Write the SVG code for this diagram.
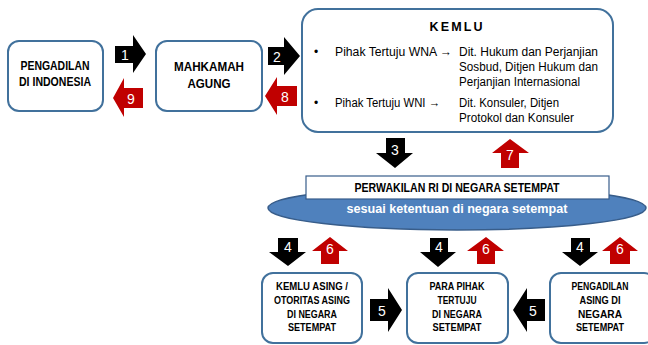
<svg xmlns="http://www.w3.org/2000/svg" width="648" height="345" viewBox="0 0 648 345">
<style>
.box{fill:#fff;stroke:#41719C;stroke-width:2}
.t{font-family:"Liberation Sans",Arial,sans-serif;fill:#000}
.b{font-weight:bold}
.blk{fill:#000}
.red{fill:#C00000}
.num{font-family:"Liberation Sans",Arial,sans-serif;font-size:14px;fill:#fff;text-anchor:middle}
</style>
<rect width="648" height="345" fill="#fff"/>
<g id="pengadilan-indonesia">
<rect class="box" x="8" y="41" width="95" height="70" rx="11"/>
<text class="t b" font-size="13" x="55" y="70" text-anchor="middle" textLength="69" lengthAdjust="spacingAndGlyphs">PENGADILAN</text>
<text class="t b" font-size="13" x="55" y="86" text-anchor="middle" textLength="72" lengthAdjust="spacingAndGlyphs">DI INDONESIA</text>
</g>
<g id="mahkamah-agung">
<rect class="box" x="156" y="41" width="106" height="70" rx="11"/>
<text class="t b" font-size="13" x="209" y="71" text-anchor="middle" textLength="70" lengthAdjust="spacingAndGlyphs">MAHKAMAH</text>
<text class="t b" font-size="13" x="209" y="88" text-anchor="middle" textLength="43" lengthAdjust="spacingAndGlyphs">AGUNG</text>
</g>
<g id="kemlu">
<rect class="box" x="302" y="9" width="311" height="123" rx="16"/>
<text class="t b" font-size="12.5" x="456" y="31" text-anchor="middle" textLength="53" lengthAdjust="spacing">KEMLU</text>
<text class="t" font-size="12" x="314" y="56">•</text>
<text class="t" font-size="12.5" x="335" y="56" textLength="117" lengthAdjust="spacingAndGlyphs">Pihak Tertuju WNA →</text>
<text class="t" font-size="12.5" x="459" y="56" textLength="139" lengthAdjust="spacingAndGlyphs">Dit. Hukum dan Perjanjian</text>
<text class="t" font-size="12.5" x="459" y="71" textLength="139" lengthAdjust="spacingAndGlyphs">Sosbud, Ditjen Hukum dan</text>
<text class="t" font-size="12.5" x="459" y="86" textLength="121" lengthAdjust="spacingAndGlyphs">Perjanjian Internasional</text>
<text class="t" font-size="12" x="314" y="107">•</text>
<text class="t" font-size="12.5" x="335" y="107" textLength="105" lengthAdjust="spacingAndGlyphs">Pihak Tertuju WNI →</text>
<text class="t" font-size="12.5" x="459" y="107" textLength="100" lengthAdjust="spacingAndGlyphs">Dit. Konsuler, Ditjen</text>
<text class="t" font-size="12.5" x="459" y="122" textLength="115" lengthAdjust="spacingAndGlyphs">Protokol dan Konsuler</text>
</g>
<g id="perwakilan">
<ellipse cx="457" cy="208" rx="189" ry="22" fill="#4F81BD" stroke="#385D8A" stroke-width="1.5"/>
<rect x="306" y="176" width="303" height="23" fill="#fff" stroke="#385D8A" stroke-width="1.2"/>
<text class="t b" font-size="12" x="457" y="192" text-anchor="middle" textLength="205" lengthAdjust="spacingAndGlyphs">PERWAKILAN RI DI NEGARA SETEMPAT</text>
<text class="t b" font-size="12.5" x="457" y="213" text-anchor="middle" fill="#fff" style="fill:#fff" textLength="221" lengthAdjust="spacingAndGlyphs">sesuai ketentuan di negara setempat</text>
</g>
<g id="kemlu-asing">
<rect class="box" x="262" y="273" width="100" height="70" rx="11"/>
<text class="t b" font-size="11" x="312" y="290" text-anchor="middle" textLength="72" lengthAdjust="spacingAndGlyphs">KEMLU ASING /</text>
<text class="t b" font-size="11" x="312" y="304" text-anchor="middle" textLength="76" lengthAdjust="spacingAndGlyphs">OTORITAS ASING</text>
<text class="t b" font-size="11" x="312" y="318" text-anchor="middle" textLength="50" lengthAdjust="spacingAndGlyphs">DI NEGARA</text>
<text class="t b" font-size="11" x="312" y="331" text-anchor="middle" textLength="48" lengthAdjust="spacingAndGlyphs">SETEMPAT</text>
</g>
<g id="para-pihak">
<rect class="box" x="407" y="273" width="101" height="70" rx="11"/>
<text class="t b" font-size="11" x="457" y="290" text-anchor="middle" textLength="55" lengthAdjust="spacingAndGlyphs">PARA PIHAK</text>
<text class="t b" font-size="11" x="457" y="304" text-anchor="middle" textLength="39" lengthAdjust="spacingAndGlyphs">TERTUJU</text>
<text class="t b" font-size="11" x="457" y="318" text-anchor="middle" textLength="50" lengthAdjust="spacingAndGlyphs">DI NEGARA</text>
<text class="t b" font-size="11" x="457" y="331" text-anchor="middle" textLength="49" lengthAdjust="spacingAndGlyphs">SETEMPAT</text>
</g>
<g id="pengadilan-asing">
<rect class="box" x="550" y="273" width="105" height="70" rx="11"/>
<text class="t b" font-size="11" x="600" y="290" text-anchor="middle" textLength="57" lengthAdjust="spacingAndGlyphs">PENGADILAN</text>
<text class="t b" font-size="11" x="600" y="304" text-anchor="middle" textLength="41" lengthAdjust="spacingAndGlyphs">ASING DI</text>
<text class="t b" font-size="11" x="600" y="318" text-anchor="middle" textLength="44" lengthAdjust="spacingAndGlyphs">NEGARA</text>
<text class="t b" font-size="11" x="600" y="331" text-anchor="middle" textLength="48" lengthAdjust="spacingAndGlyphs">SETEMPAT</text>
</g>
<g id="connectors">
<!-- 1 -->
<path class="blk" d="M115 46 H133 V35 L146 54 L133 73 V63 H115 Z"/>
<text class="num" x="125" y="60">1</text>
<!-- 9 -->
<path class="red" d="M143 88 H124 V78 L113 98 L124 117 V108 H143 Z"/>
<text class="num" x="131" y="104">9</text>
<!-- 2 -->
<path class="blk" d="M268 47 H284 V37 L300 56 L284 75 V65 H268 Z"/>
<text class="num" x="277" y="62">2</text>
<!-- 8 -->
<path class="red" d="M297 86 H277 V77 L265 96 L277 115 V106 H297 Z"/>
<text class="num" x="285" y="102">8</text>
<!-- 3 -->
<path class="blk" d="M386 138 H405 V153 H413 L395 168 L376 153 H386 Z"/>
<text class="num" x="395" y="155">3</text>
<!-- 7 -->
<path class="red" d="M501 168 H519 V153 H529 L510 139 L492 153 H501 Z"/>
<text class="num" x="510" y="160">7</text>
<!-- 4 / 6 left -->
<path class="blk" d="M278 238 H298 V252 H306 L288 266 L269 252 H278 Z"/>
<text class="num" x="288" y="252">4</text>
<path class="red" d="M321 264 H339 V251 H348 L330 237 L312 251 H321 Z"/>
<text class="num" x="330" y="254">6</text>
<!-- 4 / 6 middle -->
<path class="blk" d="M430 238 H448 V252 H456 L438 267 L420 252 H430 Z"/>
<text class="num" x="439" y="252">4</text>
<path class="red" d="M477 264 H495 V251 H504 L486 237 L467 251 H477 Z"/>
<text class="num" x="486" y="254">6</text>
<!-- 4 / 6 right -->
<path class="blk" d="M571 238 H590 V252 H598 L580 266 L562 252 H571 Z"/>
<text class="num" x="580" y="252">4</text>
<path class="red" d="M610 264 H630 V251 H638 L620 237 L602 251 H610 Z"/>
<text class="num" x="620" y="254">6</text>
<!-- 5 left -->
<path class="blk" d="M370 299 H388 V288 L402 310 L388 332 V321 H370 Z"/>
<text class="num" x="382" y="316">5</text>
<!-- 5 right -->
<path class="blk" d="M545 299 H527 V288 L513 310 L527 332 V321 H545 Z"/>
<text class="num" x="533" y="316">5</text>
</g>
</svg>
